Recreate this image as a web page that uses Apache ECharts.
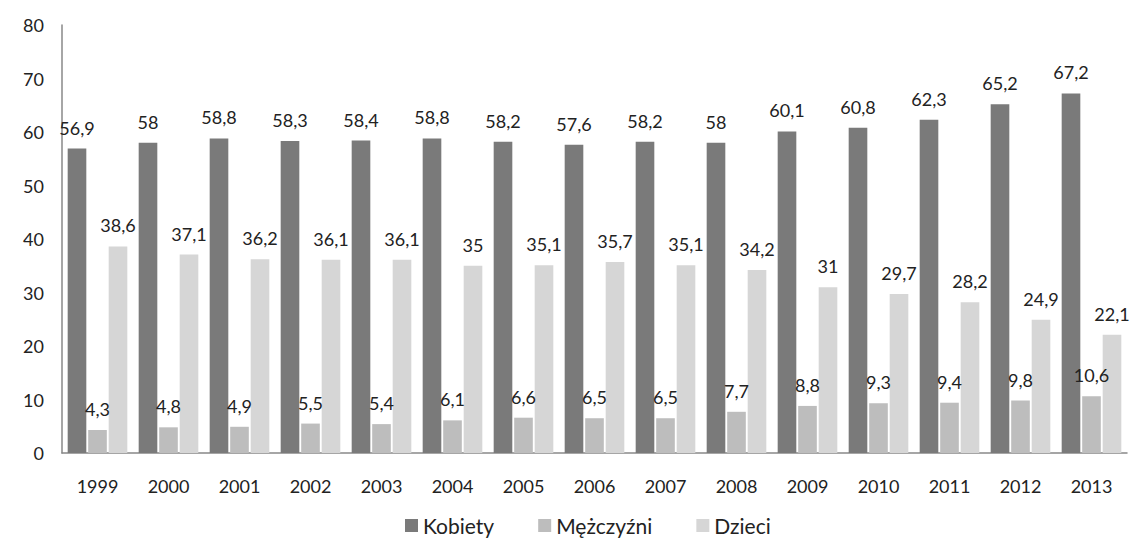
<!DOCTYPE html>
<html>
<head>
<meta charset="utf-8">
<script src="https://cdn.jsdelivr.net/npm/echarts@6/dist/echarts.min.js"></script>
<style>
  html, body { margin: 0; padding: 0; background: #fff; }
  #chart { width: 1137px; height: 543px; }
</style>
</head>
<body>
<div id="chart"></div>
<script>
var years = ['1999', '2000', '2001', '2002', '2003', '2004', '2005', '2006', '2007', '2008', '2009', '2010', '2011', '2012', '2013'];
var kobiety = [56.9, 58, 58.8, 58.3, 58.4, 58.8, 58.2, 57.6, 58.2, 58, 60.1, 60.8, 62.3, 65.2, 67.2];
var mezczyzni = [4.3, 4.8, 4.9, 5.5, 5.4, 6.1, 6.6, 6.5, 6.5, 7.7, 8.8, 9.3, 9.4, 9.8, 10.6];
var dzieci = [38.6, 37.1, 36.2, 36.1, 36.1, 35, 35.1, 35.7, 35.1, 34.2, 31, 29.7, 28.2, 24.9, 22.1];
var seriesNames = ['Kobiety', 'Mężczyźni', 'Dzieci'];
var colors = ['#7a7a7a', '#bdbdbd', '#d6d6d6'];

var ink = '#222';
var font = 'Lato, "Open Sans", sans-serif';

function fmt(p) {
  return String(p.value).replace('.', ',');
}

var chart = echarts.init(document.getElementById('chart'), null, { renderer: 'svg' });

var series = [kobiety, mezczyzni, dzieci].map(function(d, i) {
  return {
    name: seriesNames[i],
    type: 'bar',
    data: d,
    barGap: '10%',
    barCategoryGap: '16%',
    itemStyle: { color: colors[i] },
    label: {
      show: true,
      position: 'top',
      distance: 12,
      formatter: fmt,
      color: ink,
      fontSize: 18,
      fontFamily: font
    }
  };
});

chart.setOption({
  animation: false,
  color: colors,
  grid: { left: 62, right: 10, top: 25, bottom: 90 },
  legend: {
    data: seriesNames,
    bottom: 2,
    left: 400,
    itemWidth: 13,
    itemHeight: 13,
    itemGap: 44,
    icon: 'rect',
    textStyle: { color: ink, fontSize: 21, fontFamily: font }
  },
  xAxis: {
    type: 'category',
    data: years,
    axisLine: { lineStyle: { color: '#888', width: 1.5 } },
    axisTick: { show: false },
    axisLabel: { color: ink, fontSize: 18, fontFamily: font, margin: 24 }
  },
  yAxis: {
    type: 'value',
    min: 0,
    max: 80,
    interval: 10,
    axisLine: { show: true, lineStyle: { color: '#888', width: 1.5 } },
    axisTick: { show: false },
    splitLine: { show: false },
    axisLabel: { color: ink, fontSize: 18, fontFamily: font, margin: 18 }
  },
  series: series
});
</script>
</body>
</html>
